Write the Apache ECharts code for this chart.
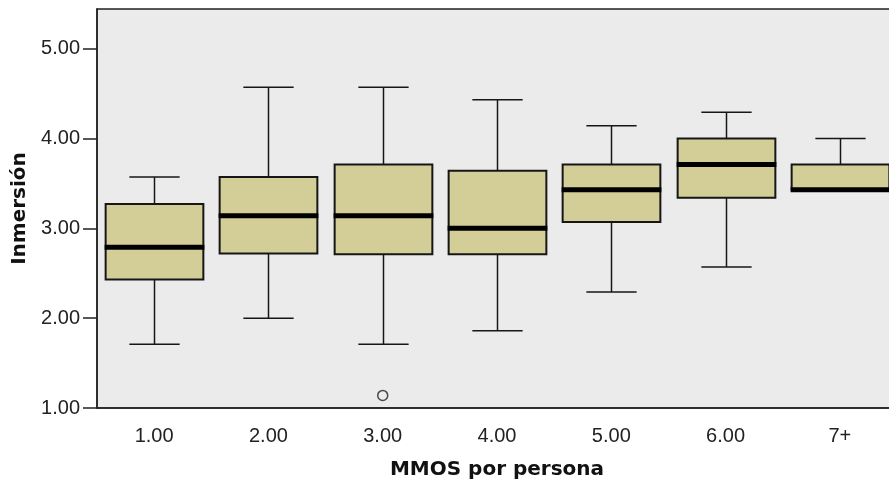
<!DOCTYPE html>
<html>
<head>
<meta charset="utf-8">
<script src="https://cdn.jsdelivr.net/npm/echarts@6/dist/echarts.min.js"></script>
<style>
  html, body { margin: 0; padding: 0; background: #ffffff; }
  #chart { width: 889px; height: 481px; }
</style>
</head>
<body>
<div id="chart"></div>
<script>
// Inmersión by number of MMOs per person: box-and-whisker summary
const categories  = ['1.00', '2.00', '3.00', '4.00', '5.00', '6.00', '7+'];
const whiskerLow  = [1.71, 2.00, 1.71, 1.86, 2.29, 2.57, 3.43];
const quartile1   = [2.43, 2.72, 2.71, 2.71, 3.07, 3.34, 3.43];
const median      = [2.79, 3.14, 3.14, 3.00, 3.43, 3.71, 3.43];
const quartile3   = [3.27, 3.57, 3.71, 3.64, 3.71, 4.00, 3.71];
const whiskerHigh = [3.57, 4.57, 4.57, 4.43, 4.14, 4.29, 4.00];

// outlying cases
const outlierCategory = ['3.00'];
const outlierValue    = [1.14];

const yTicks = [1, 2, 3, 4, 5];

const boxData = categories.map((c, i) => [
  i, whiskerLow[i], quartile1[i], median[i], quartile3[i], whiskerHigh[i]
]);
const outlierData = outlierCategory.map((c, i) => [categories.indexOf(c), outlierValue[i]]);

const LINE = '#161616';
const FILL = '#D3CE98';

function renderBox(params, api) {
  const idx = api.value(0);
  const lo = api.coord([idx, api.value(1)]);
  const q1 = api.coord([idx, api.value(2)]);
  const md = api.coord([idx, api.value(3)]);
  const q3 = api.coord([idx, api.value(4)]);
  const hi = api.coord([idx, api.value(5)]);
  const band = api.size([1, 0])[0];
  const bw = band * 0.855;
  const cw = band * 0.44;
  const x = Math.round(lo[0]) + 0.5;
  const lineStyle = { stroke: LINE, lineWidth: 1.5 };
  const children = [];
  if (hi[1] < q3[1]) {
    children.push({ type: 'line', shape: { x1: x, y1: hi[1], x2: x, y2: q3[1] }, style: lineStyle });
    children.push({ type: 'line', shape: { x1: x - cw / 2, y1: hi[1], x2: x + cw / 2, y2: hi[1] }, style: lineStyle });
  }
  if (lo[1] > q1[1]) {
    children.push({ type: 'line', shape: { x1: x, y1: q1[1], x2: x, y2: lo[1] }, style: lineStyle });
    children.push({ type: 'line', shape: { x1: x - cw / 2, y1: lo[1], x2: x + cw / 2, y2: lo[1] }, style: lineStyle });
  }
  children.push({
    type: 'rect',
    shape: { x: x - bw / 2, y: q3[1], width: bw, height: q1[1] - q3[1] },
    style: { fill: FILL, stroke: LINE, lineWidth: 2 }
  });
  children.push({
    type: 'line',
    shape: { x1: x - bw / 2 - 1, y1: md[1], x2: x + bw / 2 + 1, y2: md[1] },
    style: { stroke: '#000000', lineWidth: 5 }
  });
  return { type: 'group', children };
}

const chart = echarts.init(document.getElementById('chart'), null, { renderer: 'canvas' });
chart.setOption({
  animation: false,
  backgroundColor: '#ffffff',
  grid: {
    left: 97, width: 800, top: 9, bottom: 73,
    containLabel: false,
    outerBoundsMode: 'none',
    show: true, backgroundColor: '#EBEBEB', borderColor: '#222222', borderWidth: 1.5
  },
  xAxis: {
    type: 'category',
    data: categories,
    boundaryGap: true,
    name: 'MMOS por persona',
    nameLocation: 'middle',
    nameGap: 52,
    nameTextStyle: { fontFamily: 'DejaVu Sans', fontWeight: 'bold', fontSize: 20, color: '#111111' },
    axisLine: { lineStyle: { color: '#222222', width: 1.5 } },
    axisTick: { alignWithLabel: true, length: 15, lineStyle: { color: '#222222', width: 1.5 } },
    axisLabel: { margin: 18, fontFamily: 'Liberation Sans', fontSize: 20, color: '#222222' },
    splitLine: { show: false }
  },
  yAxis: {
    type: 'value',
    min: 1,
    max: 5.44,
    interval: 1,
    name: 'Inmersión',
    nameLocation: 'middle',
    nameGap: 66,
    nameTextStyle: { fontFamily: 'DejaVu Sans', fontWeight: 'bold', fontSize: 20, color: '#111111' },
    axisLine: { show: true, lineStyle: { color: '#222222', width: 1.5 } },
    axisTick: { show: true, length: 14, customValues: yTicks, lineStyle: { color: '#222222', width: 1.5 } },
    axisLabel: {
      margin: 17, fontFamily: 'Liberation Sans', fontSize: 20, color: '#222222',
      customValues: yTicks,
      formatter: v => Number(v).toFixed(2)
    },
    splitLine: { show: false }
  },
  series: [
    {
      type: 'custom',
      renderItem: renderBox,
      encode: { x: 0, y: [1, 2, 3, 4, 5] },
      data: boxData,
      clip: true,
      z: 2
    },
    {
      type: 'scatter',
      data: outlierData,
      symbol: 'circle',
      symbolSize: 10,
      itemStyle: { color: '#EBEBEB', borderColor: '#222222', borderWidth: 1.5 },
      z: 3
    }
  ]
});
</script>
</body>
</html>
